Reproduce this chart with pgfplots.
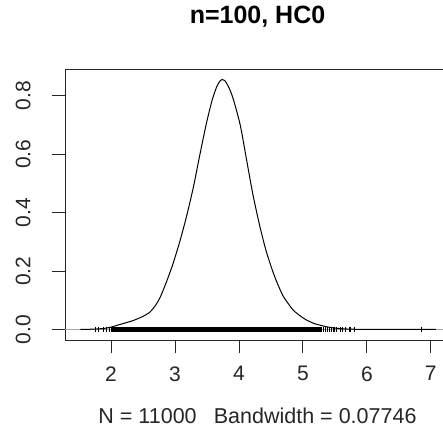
\documentclass[border=0pt]{standalone}
\usepackage{pgfplots}
\pgfplotsset{compat=1.18}
\usepackage{fontspec}
\setmainfont{Liberation Sans}
\begin{document}
\begin{tikzpicture}
\path[use as bounding box] (0bp,0bp) rectangle (443bp,438bp);
\begin{axis}[
  at={(65bp,98bp)}, anchor=south west,
  scale only axis, width=385bp, height=271bp,
  xmin=1.28, xmax=7.30, ymin=-0.036, ymax=0.892,
  axis line style={line width=0.9bp, black!85},
  tick align=outside, major tick length=13bp,
  tick style={line width=0.9bp, black!85},
  xtick={2,3,4,5,6,7},
  ytick={0,0.2,0.4,0.6,0.8},
  yticklabels={\rotatebox{90}{0.0},\rotatebox{90}{0.2},\rotatebox{90}{0.4},\rotatebox{90}{0.6},\rotatebox{90}{0.8}},
  xtick pos=bottom, ytick pos=left,
  /pgf/number format/assume math mode=true,
  ticklabel style={font=\fontsize{21bp}{24bp}\selectfont, text=black!85},
  xticklabel style={yshift=-10bp},
  yticklabel style={anchor=east, xshift=-18bp},
  title={n=100, HC0},
  title style={at={(axis description cs:0.5,1)}, anchor=center, yshift=46bp,
    font=\bfseries\fontsize{25bp}{28bp}\selectfont},
  xlabel={N = 11000\hspace{0.8em}Bandwidth = 0.07746},
  xlabel style={at={(axis description cs:0.5,0)}, anchor=center, yshift=-76bp,
    font=\fontsize{21.5bp}{24bp}\selectfont, text=black!85},
  clip=true,
]
% zero line
\addplot[gray!70, line width=0.5bp] coordinates {(1.28,0) (7.30,0)};
% rug: dense part
\addplot[black, line width=5.5bp, line cap=butt] coordinates {(2.01,0) (5.30,0)};
% rug: sparse ticks
\addplot[only marks, mark=|, mark size=2.8bp, mark options={line width=0.8bp, black}]
 coordinates {(1.75,0) (1.80,0) (1.88,0) (1.93,0) (1.97,0) (2.00,0)
 (5.32,0) (5.35,0) (5.38,0) (5.42,0) (5.45,0) (5.48,0) (5.50,0) (5.53,0)
 (5.58,0) (5.62,0) (5.67,0) (5.72,0) (5.75,0) (5.80,0) (6.85,0)};
% density curve
\addplot[black, line width=1bp, smooth, tension=0.4] coordinates {
(1.52,0) (1.60,0.0003) (1.70,0.001) (1.80,0.002) (1.90,0.004) (2.00,0.008)
(2.09,0.014) (2.20,0.021) (2.35,0.031) (2.50,0.045) (2.61,0.060) (2.70,0.084)
(2.77,0.111) (2.87,0.165) (2.97,0.226) (3.08,0.305) (3.18,0.387) (3.29,0.490)
(3.39,0.600) (3.49,0.705) (3.58,0.785) (3.65,0.830) (3.70,0.850) (3.74,0.856)
(3.78,0.852) (3.84,0.830) (3.91,0.790) (4.02,0.700) (4.12,0.580) (4.22,0.460)
(4.33,0.350) (4.43,0.265) (4.54,0.192) (4.62,0.148) (4.70,0.111) (4.85,0.066)
(5.00,0.040) (5.07,0.031) (5.17,0.021) (5.28,0.014) (5.40,0.008) (5.50,0.005)
(5.60,0.003) (5.70,0.0015) (5.80,0.0008) (5.95,0.0002) (6.10,0) (6.75,0)
(6.85,0.0002) (6.95,0) (7.08,0)};
\end{axis}
\end{tikzpicture}
\end{document}
